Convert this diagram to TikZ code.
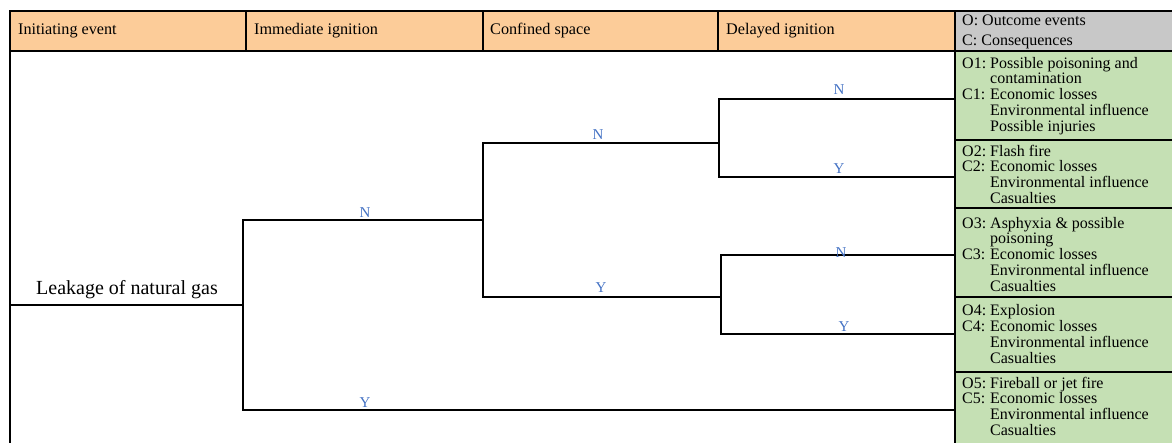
\documentclass[tikz,border=0pt]{standalone}
\usepackage{fontspec}
\setmainfont{Liberation Serif}
\definecolor{peach}{RGB}{252,204,153}
\definecolor{hdrgray}{RGB}{200,200,200}
\definecolor{outgreen}{RGB}{197,224,180}
\definecolor{lblblue}{RGB}{68,114,196}
\begin{document}
\begin{tikzpicture}[x=1pt,y=-1pt,
  gridline/.style={line width=1.6pt},
  branch/.style={line width=1.8pt, black},
  yn/.style={text=lblblue, font=\fontsize{15}{15}\selectfont, inner sep=0pt, anchor=base},
  hdr/.style={font=\fontsize{16.2}{16}\selectfont, anchor=west, inner sep=0pt},
  outc/.style={font=\fontsize{16}{15.6}\selectfont, anchor=west, inner sep=0pt, align=left}]
\useasboundingbox (0,0) rectangle (1172,443);
% fills
\fill[peach] (10,11) rectangle (955,51);
\fill[hdrgray] (955,11) rectangle (1172,51);
\fill[outgreen] (955,51) rectangle (1172,443);
% grid
\draw[gridline] (9.2,11) -- (1172,11);
\draw[gridline] (9.2,51) -- (1172,51);
\draw[gridline] (10,11) -- (10,443);
\foreach \x in {246,483,718} \draw[gridline] (\x,11) -- (\x,51);
\draw[line width=2.4pt] (955,11) -- (955,443);
\foreach \y in {140,208,297,372} \draw[gridline] (955,\y) -- (1172,\y);
% header texts
\node[hdr] (h1) at (18,31) {Initiating event};
\node[hdr] (h2) at (254,31) {Immediate ignition};
\node[hdr] (h3) at (490,31) {Confined space};
\node[hdr] (h4) at (726,31) {Delayed ignition};
\node[hdr, align=left, font=\fontsize{16}{20}\selectfont] (h5) at (962,32) {O: Outcome events\\C: Consequences};
% outcomes
\node[outc] (o1) at (962,96.5) {\begin{tabular}{@{}l@{\ }l@{}}O1: & Possible poisoning and\\ & contamination\\ C1: & Economic losses\\ & Environmental influence\\ & Possible injuries\end{tabular}};
\node[outc] (o2) at (962,176.5) {\begin{tabular}{@{}l@{\ }l@{}}O2: & Flash fire\\ C2: & Economic losses\\ & Environmental influence\\ & Casualties\end{tabular}};
\node[outc] (o3) at (962,256.5) {\begin{tabular}{@{}l@{\ }l@{}}O3: & Asphyxia \& possible\\ & poisoning\\ C3: & Economic losses\\ & Environmental influence\\ & Casualties\end{tabular}};
\node[outc] (o4) at (962,336.5) {\begin{tabular}{@{}l@{\ }l@{}}O4: & Explosion\\ C4: & Economic losses\\ & Environmental influence\\ & Casualties\end{tabular}};
\node[outc] (o5) at (962,408.5) {\begin{tabular}{@{}l@{\ }l@{}}O5: & Fireball or jet fire\\ C5: & Economic losses\\ & Environmental influence\\ & Casualties\end{tabular}};
% initiating event
\node[font=\fontsize{20}{20}\selectfont, anchor=base, inner sep=0pt] (leak) at (127,295) {Leakage of natural gas};
% tree points
\coordinate (s) at (10,305);
\coordinate (k0) at (243,305);
\coordinate (k1) at (483,220);
\coordinate (k2) at (719,143);
\coordinate (k3) at (721,297);
\coordinate (e1) at (955,99);
\coordinate (e2) at (955,177);
\coordinate (e3) at (955,255);
\coordinate (e4) at (955,334);
\coordinate (e5) at (955,410);
\draw[branch] (s) -- (k0);
\draw[branch] (k0) |- (k1);
\draw[branch] (k0) |- (e5);
\draw[branch] (k1) |- (k2);
\draw[branch] (k1) |- (k3);
\draw[branch] (k2) |- (e1);
\draw[branch] (k2) |- (e2);
\draw[branch] (k3) |- (e3);
\draw[branch] (k3) |- (e4);
% labels
\node[yn] (l1) at (365,218) {N};
\node[yn] (l2) at (365,407) {Y};
\node[yn] (l3) at (598,140) {N};
\node[yn] (l4) at (601,293) {Y};
\node[yn] (l5) at (839,95) {N};
\node[yn] (l6) at (839,174) {Y};
\node[yn] (l7) at (841,258) {N};
\node[yn] (l8) at (844,332) {Y};
\end{tikzpicture}
\end{document}
